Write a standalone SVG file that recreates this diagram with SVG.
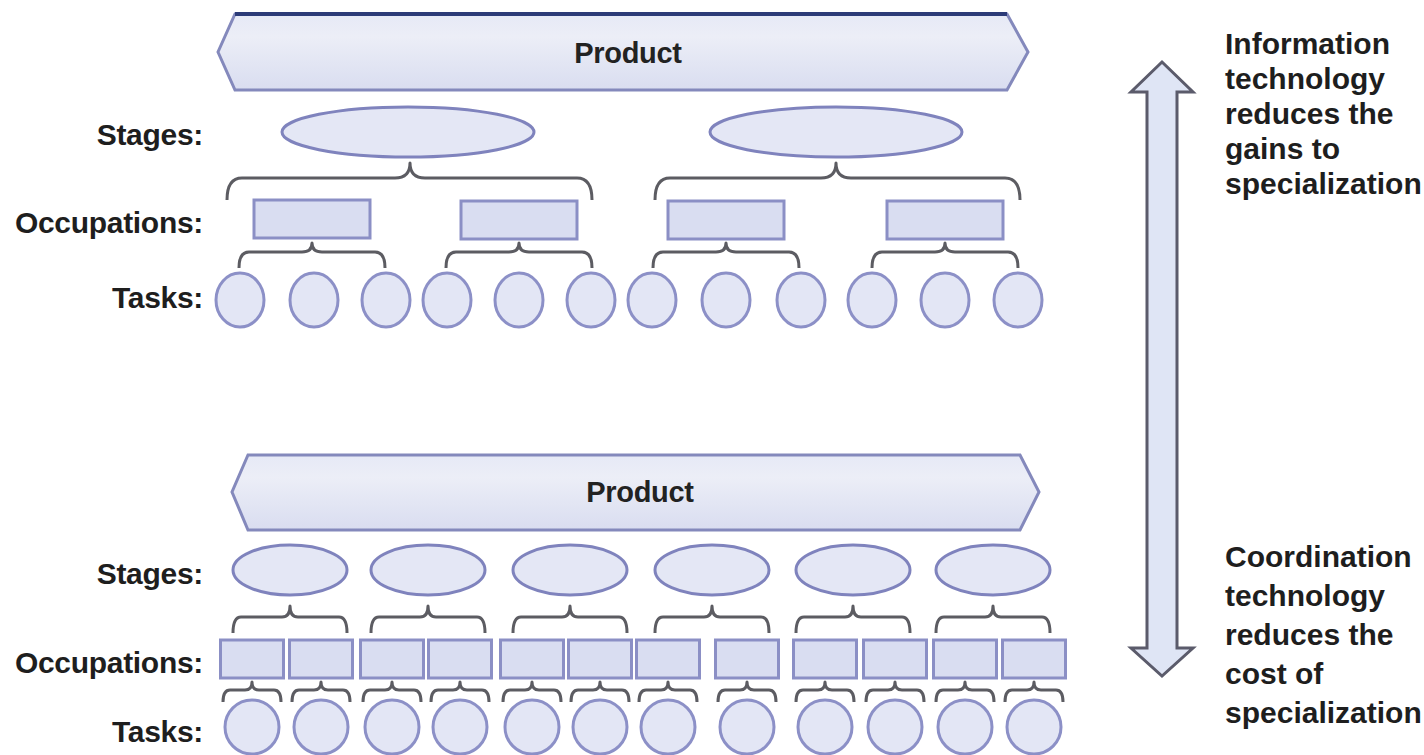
<svg xmlns="http://www.w3.org/2000/svg" width="1424" height="755" viewBox="0 0 1424 755">
<defs>
<linearGradient id="bannerGrad" x1="0" y1="0" x2="0" y2="1">
<stop offset="0" stop-color="#e6e9f6"/>
<stop offset="0.3" stop-color="#eceef7"/>
<stop offset="1" stop-color="#d9ddf0"/>
</linearGradient>
<style>
.lbl{font-family:"Liberation Sans",Arial,sans-serif;font-weight:bold;font-size:30px;letter-spacing:-0.3px;fill:#1e1e1e;text-anchor:end}
.prod{font-family:"Liberation Sans",Arial,sans-serif;font-weight:bold;font-size:29px;letter-spacing:-0.3px;fill:#222;text-anchor:middle}
.side{font-family:"Liberation Sans",Arial,sans-serif;font-weight:bold;font-size:30px;fill:#1e1e1e}
.banner{fill:url(#bannerGrad);stroke:#8489bc;stroke-width:3}
.stage{fill:#e4e7f5;stroke:#7f83bd;stroke-width:3}
.occ{fill:#d9ddf1;stroke:#8b8fc5;stroke-width:3}
.task{fill:#e3e6f5;stroke:#8c90c7;stroke-width:3}
.brace{fill:none;stroke:#5c5c62;stroke-width:3;stroke-linejoin:round}
.arrow{fill:#dfe5f5;stroke:#5b5b6b;stroke-width:3;stroke-linejoin:miter}
</style>
</defs>
<rect x="0" y="0" width="1424" height="755" fill="#ffffff"/>

<!-- labels -->
<g id="labels-top">
<text class="lbl" x="203" y="145">Stages:</text>
<text class="lbl" x="203" y="233">Occupations:</text>
<text class="lbl" x="203" y="308">Tasks:</text>
</g>
<g id="labels-bottom">
<text class="lbl" x="203" y="584">Stages:</text>
<text class="lbl" x="203" y="673">Occupations:</text>
<text class="lbl" x="203" y="742">Tasks:</text>
</g>

<!-- top product -->
<g id="product-top">
<polygon class="banner" points="235,14 1007,14 1028,52 1007,90 235,90 218,52"/>
<line x1="235" y1="14" x2="1007" y2="14" stroke="#2c3b78" stroke-width="4"/>
<text class="prod" x="628" y="63">Product</text>
</g>

<g id="stages-top">
<ellipse id="stage-t1" class="stage" cx="408" cy="132" rx="126" ry="25"/>
<ellipse id="stage-t2" class="stage" cx="836" cy="132" rx="126" ry="25"/>
</g>

<g id="occupations-top">
<rect id="occ-t1" class="occ" x="254" y="200" width="116" height="38"/>
<rect id="occ-t2" class="occ" x="461" y="201" width="116" height="38"/>
<rect id="occ-t3" class="occ" x="668" y="201" width="116" height="38"/>
<rect id="occ-t4" class="occ" x="887" y="201" width="116" height="38"/>
</g>

<g id="tasks-top">
<ellipse class="task" cx="240" cy="300" rx="24" ry="27"/>
<ellipse class="task" cx="314" cy="300" rx="24" ry="27"/>
<ellipse class="task" cx="386" cy="300" rx="24" ry="27"/>
<ellipse class="task" cx="447" cy="300" rx="24" ry="27"/>
<ellipse class="task" cx="519" cy="300" rx="24" ry="27"/>
<ellipse class="task" cx="591" cy="300" rx="24" ry="27"/>
<ellipse class="task" cx="652" cy="300" rx="24" ry="27"/>
<ellipse class="task" cx="726" cy="300" rx="24" ry="27"/>
<ellipse class="task" cx="801" cy="300" rx="24" ry="27"/>
<ellipse class="task" cx="872" cy="300" rx="24" ry="27"/>
<ellipse class="task" cx="945" cy="300" rx="24" ry="27"/>
<ellipse class="task" cx="1018" cy="300" rx="24" ry="27"/>
</g>

<!-- bottom product -->
<g id="product-bottom">
<polygon class="banner" points="248,455 1020,455 1039,492 1020,530 248,530 232,492"/>
<text class="prod" x="640" y="502">Product</text>
</g>

<g id="stages-bottom">
<ellipse class="stage" cx="290" cy="570" rx="57" ry="25"/>
<ellipse class="stage" cx="428" cy="570" rx="57" ry="25"/>
<ellipse class="stage" cx="570" cy="570" rx="57" ry="25"/>
<ellipse class="stage" cx="712" cy="570" rx="57" ry="25"/>
<ellipse class="stage" cx="853" cy="570" rx="57" ry="25"/>
<ellipse class="stage" cx="993" cy="570" rx="57" ry="25"/>
</g>

<g id="occupations-bottom">
<rect class="occ" x="220.5" y="640" width="63" height="38"/>
<rect class="occ" x="289.5" y="640" width="63" height="38"/>
<rect class="occ" x="360.5" y="640" width="63" height="38"/>
<rect class="occ" x="428.5" y="640" width="63" height="38"/>
<rect class="occ" x="500.5" y="640" width="63" height="38"/>
<rect class="occ" x="568.5" y="640" width="63" height="38"/>
<rect class="occ" x="636.5" y="640" width="63" height="38"/>
<rect class="occ" x="715.5" y="640" width="63" height="38"/>
<rect class="occ" x="793.5" y="640" width="63" height="38"/>
<rect class="occ" x="863.5" y="640" width="63" height="38"/>
<rect class="occ" x="933.5" y="640" width="63" height="38"/>
<rect class="occ" x="1002.5" y="640" width="63" height="38"/>
</g>

<g id="tasks-bottom">
<ellipse class="task" cx="252" cy="727" rx="27" ry="27"/>
<ellipse class="task" cx="321" cy="727" rx="27" ry="27"/>
<ellipse class="task" cx="392" cy="727" rx="27" ry="27"/>
<ellipse class="task" cx="460" cy="727" rx="27" ry="27"/>
<ellipse class="task" cx="532" cy="727" rx="27" ry="27"/>
<ellipse class="task" cx="600" cy="727" rx="27" ry="27"/>
<ellipse class="task" cx="668" cy="727" rx="27" ry="27"/>
<ellipse class="task" cx="747" cy="727" rx="27" ry="27"/>
<ellipse class="task" cx="825" cy="727" rx="27" ry="27"/>
<ellipse class="task" cx="895" cy="727" rx="27" ry="27"/>
<ellipse class="task" cx="965" cy="727" rx="27" ry="27"/>
<ellipse class="task" cx="1034" cy="727" rx="27" ry="27"/>
</g>

<!-- connectors: braces -->
<g id="connectors">
<path class="brace" d="M227 200 Q227 178 242 178 L395 178 Q410 178 410 163 Q410 178 425 178 L577 178 Q592 178 592 200"/>
<path class="brace" d="M655 200 Q655 178 670 178 L821 178 Q836 178 836 163 Q836 178 851 178 L1005 178 Q1020 178 1020 200"/>
<path class="brace" d="M239 268 Q239 252 249 252 L302 252 Q312 252 312 243 Q312 252 322 252 L375 252 Q385 252 385 268"/>
<path class="brace" d="M446 268 Q446 252 456 252 L509 252 Q519 252 519 243 Q519 252 529 252 L582 252 Q592 252 592 268"/>
<path class="brace" d="M653 268 Q653 252 663 252 L716 252 Q726 252 726 243 Q726 252 736 252 L789 252 Q799 252 799 268"/>
<path class="brace" d="M872 268 Q872 252 882 252 L935 252 Q945 252 945 243 Q945 252 955 252 L1008 252 Q1018 252 1018 268"/>

<path class="brace" d="M233 633 Q233 617 241 617 L282 617 Q290 617 290 606 Q290 617 298 617 L339 617 Q347 617 347 633"/>
<path class="brace" d="M371 633 Q371 617 379 617 L420 617 Q428 617 428 606 Q428 617 436 617 L477 617 Q485 617 485 633"/>
<path class="brace" d="M513 633 Q513 617 521 617 L562 617 Q570 617 570 606 Q570 617 578 617 L619 617 Q627 617 627 633"/>
<path class="brace" d="M655 633 Q655 617 663 617 L704 617 Q712 617 712 606 Q712 617 720 617 L761 617 Q769 617 769 633"/>
<path class="brace" d="M796 633 Q796 617 804 617 L845 617 Q853 617 853 606 Q853 617 861 617 L902 617 Q910 617 910 633"/>
<path class="brace" d="M936 633 Q936 617 944 617 L985 617 Q993 617 993 606 Q993 617 1001 617 L1042 617 Q1050 617 1050 633"/>

<path class="brace" d="M223 702 Q223 690 230 690 L245 690 Q252 690 252 682 Q252 690 259 690 L274 690 Q281 690 281 702"/>
<path class="brace" d="M292 702 Q292 690 299 690 L314 690 Q321 690 321 682 Q321 690 328 690 L343 690 Q350 690 350 702"/>
<path class="brace" d="M363 702 Q363 690 370 690 L385 690 Q392 690 392 682 Q392 690 399 690 L414 690 Q421 690 421 702"/>
<path class="brace" d="M431 702 Q431 690 438 690 L453 690 Q460 690 460 682 Q460 690 467 690 L482 690 Q489 690 489 702"/>
<path class="brace" d="M503 702 Q503 690 510 690 L525 690 Q532 690 532 682 Q532 690 539 690 L554 690 Q561 690 561 702"/>
<path class="brace" d="M571 702 Q571 690 578 690 L593 690 Q600 690 600 682 Q600 690 607 690 L622 690 Q629 690 629 702"/>
<path class="brace" d="M639 702 Q639 690 646 690 L661 690 Q668 690 668 682 Q668 690 675 690 L690 690 Q697 690 697 702"/>
<path class="brace" d="M718 702 Q718 690 725 690 L740 690 Q747 690 747 682 Q747 690 754 690 L769 690 Q776 690 776 702"/>
<path class="brace" d="M796 702 Q796 690 803 690 L818 690 Q825 690 825 682 Q825 690 832 690 L847 690 Q854 690 854 702"/>
<path class="brace" d="M866 702 Q866 690 873 690 L888 690 Q895 690 895 682 Q895 690 902 690 L917 690 Q924 690 924 702"/>
<path class="brace" d="M936 702 Q936 690 943 690 L958 690 Q965 690 965 682 Q965 690 972 690 L987 690 Q994 690 994 702"/>
<path class="brace" d="M1005 702 Q1005 690 1012 690 L1027 690 Q1034 690 1034 682 Q1034 690 1041 690 L1056 690 Q1063 690 1063 702"/>
</g>

<!-- double arrow -->
<g id="arrow">
<polygon class="arrow" points="1162,62 1193,92 1177,92 1177,648 1193,648 1162,676 1131,648 1147,648 1147,92 1131,92"/>
</g>

<g id="note-top">
<text class="side" x="1225"><tspan x="1225" y="54">Information</tspan><tspan x="1225" y="89">technology</tspan><tspan x="1225" y="124">reduces the</tspan><tspan x="1225" y="159">gains to</tspan><tspan x="1225" y="194">specialization</tspan></text>
</g>
<g id="note-bottom">
<text class="side" x="1225"><tspan x="1225" y="567">Coordination</tspan><tspan x="1225" y="606">technology</tspan><tspan x="1225" y="645">reduces the</tspan><tspan x="1225" y="684">cost of</tspan><tspan x="1225" y="723">specialization</tspan></text>
</g>
</svg>
